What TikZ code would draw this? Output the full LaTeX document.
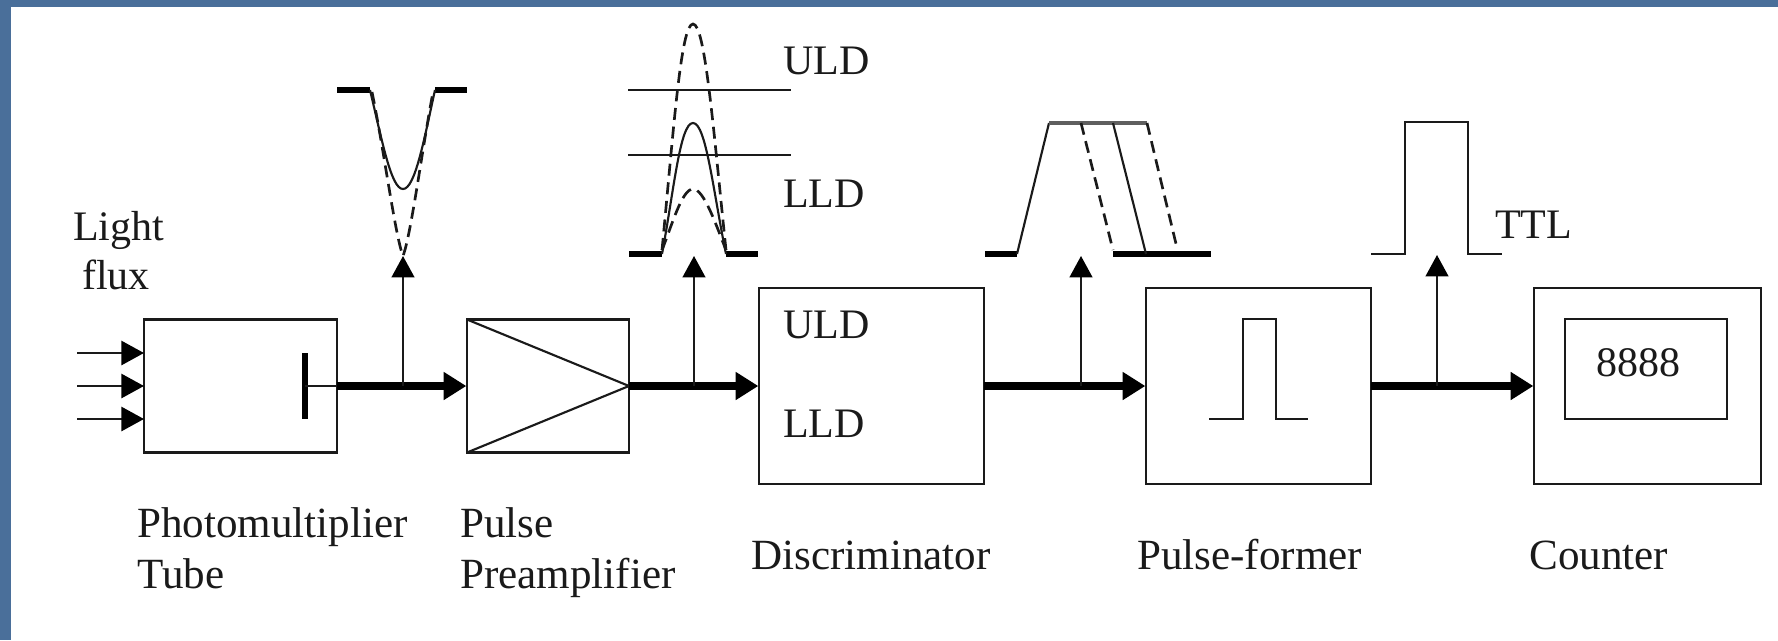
\documentclass[tikz,border=0pt]{standalone}
\usepackage{fontspec}
\setmainfont{Liberation Serif}
\usetikzlibrary{arrows.meta}
\definecolor{frameblue}{HTML}{4A6F9A}
\definecolor{ink}{HTML}{1A1A1A}
\tikzset{
  box/.style={draw=ink,line width=1.6pt,fill=white,inner sep=0pt,outer sep=0pt,anchor=north west},
  lab/.style={anchor=base west,inner sep=0pt,text=ink,font=\fontsize{31.5}{36}\selectfont},
  blab/.style={lab,font=\fontsize{32.3}{36}\selectfont},
  bigarrow/.style={draw=black,line width=5.5pt,-{Triangle[length=17pt,width=20pt,color=black]},shorten >=0.5pt},
  upa/.style={draw=ink,line width=1.6pt,-{Triangle[length=16pt,width=17pt,color=black]}},
  inarrow/.style={draw=ink,line width=2.2pt,-{Triangle[length=17pt,width=18pt,color=black]}},
  thin/.style={draw=ink,line width=1.6pt},
  wave/.style={draw=ink,line width=1.6pt,line join=miter},
  dashwave/.style={draw=ink,line width=2pt,dash pattern=on 9pt off 5pt},
  base/.style={draw=black,line width=4.6pt},
}
\begin{document}
\begin{tikzpicture}[x=0.75pt,y=-0.75pt]
\useasboundingbox (0,0) rectangle (1778,640);
\fill[frameblue] (0,0) rectangle (1778,640);
\fill[white] (11,7) rectangle (1778,640);

% blocks
\node[box,minimum width=144.75pt,minimum height=99.75pt] (pmt) at (144,319.5) {};
\node[box,minimum width=121.5pt,minimum height=99.75pt] (amp) at (467,319.5) {};
\node[box,minimum width=168.75pt,minimum height=147pt] (disc) at (759,288) {};
\node[box,minimum width=168.75pt,minimum height=147pt] (former) at (1146,288) {};
\node[box,minimum width=170.25pt,minimum height=147pt] (counter) at (1534,288) {};
\node[box,minimum width=121.5pt,minimum height=75pt] (display) at (1565,319) {};

% input arrows
\coordinate (i1) at (77,353);
\coordinate (i2) at (77,386);
\coordinate (i3) at (77,419);
\coordinate (o1) at (144,353);
\coordinate (o2) at (144,386);
\coordinate (o3) at (144,419);
\draw[inarrow] (i1) -- (o1);
\draw[inarrow] (i2) -- (o2);
\draw[inarrow] (i3) -- (o3);

% PMT anode
\coordinate (dynT) at (305,353);
\coordinate (dynB) at (305,419);
\coordinate (dynC) at (305,386);
\draw[draw=black,line width=3.8pt] (dynT) -- (dynB);
\draw[thin] (dynC) -- (pmt.east);

% preamp triangle
\draw[thin,line join=miter] (amp.north west) -- (amp.east) -- (amp.south west);

% main connectors
\draw[bigarrow] (pmt.east) -- (amp.west);
\draw[bigarrow] (amp.east) -- (disc.west);
\draw[bigarrow] (disc.east) -- (former.west);
\draw[bigarrow] (former.east) -- (counter.west);

% tap arrows
\coordinate (t1) at (403,386); \coordinate (u1) at (403,256);
\coordinate (t2) at (694,386); \coordinate (u2) at (694,256);
\coordinate (t3) at (1081,386); \coordinate (u3) at (1081,256);
\coordinate (t4) at (1437,386); \coordinate (u4) at (1437,255);
\draw[upa] (t1) -- (u1);
\draw[upa] (t2) -- (u2);
\draw[upa] (t3) -- (u3);
\draw[upa] (t4) -- (u4);

% inverted pulse
\draw[base] (337,90) -- (370,90);
\draw[base] (435,90) -- (467,90);
\draw[wave] (370,90) .. controls (382,140) and (391,189) .. (403,189) .. controls (415,189) and (424,140) .. (435,90);
\draw[dashwave] (372,92) .. controls (384,150) and (395,235) .. (403,256) .. controls (411,235) and (422,150) .. (433,92);

% discriminator levels and pulses
\draw[thin] (628,90) -- (791,90);
\draw[thin] (628,155) -- (791,155);
\draw[base] (629,254) -- (662,254);
\draw[base] (726,254) -- (758,254);
\draw[wave] (662,254) .. controls (674,190) and (680,123) .. (693,123) .. controls (706,123) and (713,190) .. (726,254);
\draw[dashwave] (662,250) .. controls (674,125) and (681,24) .. (693,24) .. controls (705,24) and (713,125) .. (726,250);
\draw[dashwave] (662,250) .. controls (672,225) and (682,189) .. (693,189) .. controls (704,189) and (716,225) .. (726,250);

% trapezoid
\draw[base] (985,254) -- (1017,254);
\draw[base] (1113,254) -- (1211,254);
\draw[wave] (1017,254) -- (1049,123);
\draw[draw=ink!70,line width=3pt] (1049,123) -- (1147,123);
\draw[wave] (1113,123) -- (1146,254);
\draw[dashwave] (1081,123) -- (1113,250);
\draw[dashwave] (1147,123) -- (1177,248);

% TTL pulse
\draw[wave] (1371,254) -- (1405,254) -- (1405,122) -- (1468,122) -- (1468,254) -- (1502,254);

% pulse in former
\draw[wave] (1209,419) -- (1243,419) -- (1243,319) -- (1276,319) -- (1276,419) -- (1308,419);

% labels
\node[lab] (l1) at (73,240) {Light};
\node[lab] (l2) at (82,289) {flux};
\node[lab] (l3) at (783,74) {ULD};
\node[lab] (l4) at (783,207) {LLD};
\node[lab] (l5) at (783,338) {ULD};
\node[lab] (l6) at (783,437) {LLD};
\node[lab] (l7) at (1495,238) {TTL};
\node[lab] (l8) at (1596,376) {8888};
\node[blab] (l9) at (137,537) {Photomultiplier};
\node[blab] (l10) at (137,588) {Tube};
\node[blab] (l11) at (460,537) {Pulse};
\node[blab] (l12) at (460,588) {Preamplifier};
\node[blab] (l13) at (751,569) {Discriminator};
\node[blab] (l14) at (1137,569) {Pulse-former};
\node[blab] (l15) at (1529,569) {Counter};
\end{tikzpicture}
\end{document}
